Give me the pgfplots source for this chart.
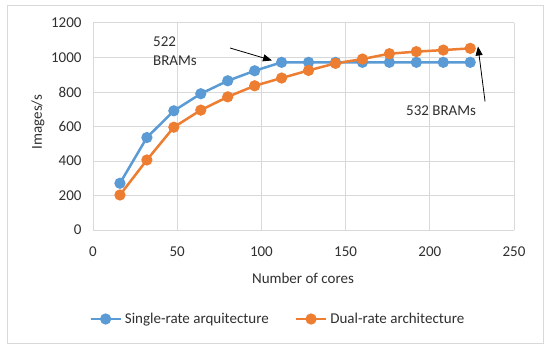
\documentclass[border=0pt]{standalone}
\usepackage{pgfplots}
\pgfplotsset{compat=1.18}
\usepackage{fontspec}
\setmainfont{Carlito}
\usetikzlibrary{arrows.meta}
\definecolor{sblue}{HTML}{5B9BD5}
\definecolor{sorange}{HTML}{ED7D31}
\definecolor{gridc}{HTML}{D9D9D9}
\definecolor{txt}{HTML}{303030}
\begin{document}
\begin{tikzpicture}[x=1bp,y=1bp,font=\fontsize{15bp}{18bp}\selectfont,text=txt]
\fill[white] (0,0) rectangle (550,348);
\draw[gridc, line width=1bp] (7.5,5) rectangle (543.5,342);
\begin{axis}[
  at={(93bp,118bp)}, anchor=south west, scale only axis,
  width=421bp, height=207bp,
  xmin=0, xmax=250, ymin=0, ymax=1200,
  xtick={0,50,...,250}, ytick={0,200,...,1200},
  grid=major, grid style={gridc, line width=1bp},
  axis line style={draw=none}, tick style={draw=none},
  /pgf/number format/assume math mode=true,
  /pgf/number format/1000 sep={},
  ticklabel style={font=\fontsize{15bp}{18bp}\selectfont, text=txt},
  xticklabel style={yshift=-13bp},
  yticklabel style={xshift=-8bp},
  legend style={at={(axis description cs:0.439,-0.43)}, anchor=center, draw=none, fill=none,
    legend columns=2, font=\fontsize{15bp}{18bp}\selectfont, text=txt,
    /tikz/every even column/.append style={column sep=24bp},
    /tikz/every odd column/.append style={column sep=1bp},
    legend cell align=left},
  legend image code/.code={\draw[mark repeat=2,mark phase=2,#1] plot coordinates {(0bp,0bp) (15bp,0bp) (30bp,0bp)};},
  clip=false,
]
\addplot[sblue, line width=2.5bp, mark=*, mark size=4.3bp, mark options={solid, fill=sblue, draw=sblue}] coordinates {
(16,271) (32,536) (48,691) (64,790) (80,865) (96,923) (112,972) (128,972) (144,972) (160,972) (176,972) (192,972) (208,972) (224,972)};
\addlegendentry{Single-rate arquitecture}
\addplot[sorange, line width=2.5bp, mark=*, mark size=4.3bp, mark options={solid, fill=sorange, draw=sorange}] coordinates {
(16,203) (32,406) (48,596) (64,695) (80,772) (96,836) (112,881) (128,925) (144,966) (160,991) (176,1022) (192,1034) (208,1043) (224,1053)};
\addlegendentry{Dual-rate architecture}
\draw[black, line width=0.8bp, -{Triangle[length=9bp,width=7bp]}] (axis cs:81.4,1055) -- (axis cs:106.3,983);
\draw[black, line width=0.8bp, -{Triangle[length=9bp,width=7bp]}] (axis cs:232.8,745) -- (axis cs:228.6,1064);
\node[anchor=west, align=left, inner sep=0pt, font=\fontsize{15bp}{19bp}\selectfont] at (axis cs:35.6,1038) {522\\BRAMs};
\node[inner sep=0pt] at (axis cs:206.7,691) {532 BRAMs};
\end{axis}
\node[rotate=90] at (38,226) {Images/s};
\node at (303,70) {Number of cores};
\end{tikzpicture}
\end{document}
